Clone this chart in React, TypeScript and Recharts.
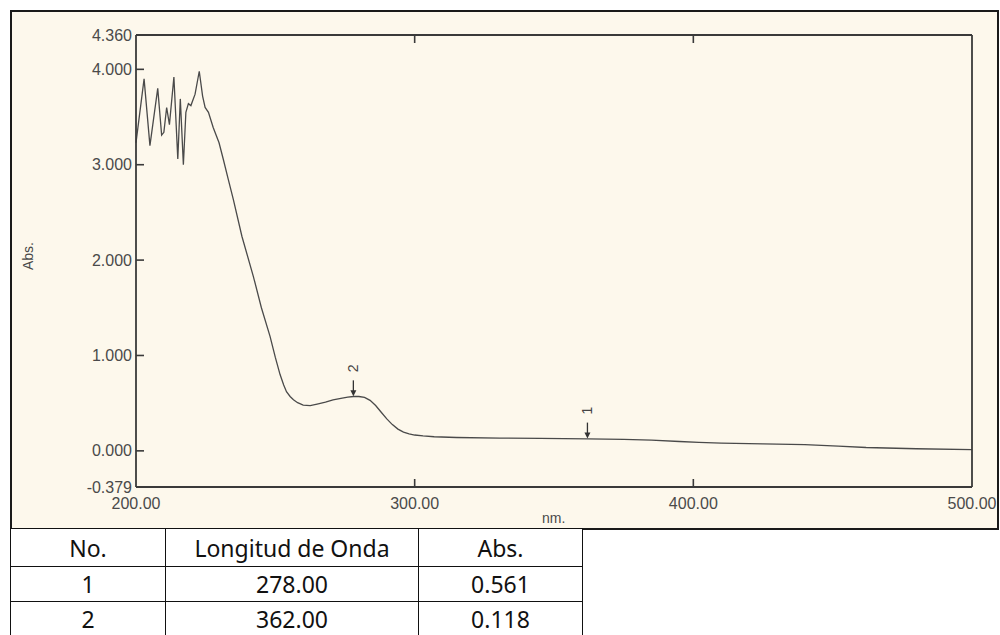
import React from "react";
import { LineChart, Line, XAxis, YAxis, ReferenceDot } from "recharts";

// Spectrum (wavelength nm -> absorbance)
const wavelengths = [
  200, 202.9, 205, 207.8, 209.2, 210, 211, 212, 213.6, 215, 215.9, 217, 217.9, 218.8,
  219.7, 221.2, 222.7, 223.9, 224.8, 226, 227.7, 229.8, 231.3, 233, 234.9, 238, 242.1, 245,
  248.1, 250, 251.7, 253, 254, 255.3, 256.5, 258, 260, 262.5, 265, 268, 270.7, 274, 276, 278,
  280, 282, 284, 286, 288, 290, 292, 294, 296, 298, 300, 303, 307, 315, 330.6, 345, 362,
  375, 385, 395, 402, 410, 425, 440, 452, 462, 480, 500,
];
const absorbance = [
  3.23, 3.9, 3.2, 3.8, 3.31, 3.34, 3.6, 3.42, 3.92, 3.06, 3.69, 3.0, 3.55, 3.64,
  3.62, 3.74, 3.98, 3.72, 3.6, 3.55, 3.39, 3.23, 3.06, 2.86, 2.64, 2.25, 1.83, 1.5,
  1.2, 0.98, 0.8, 0.69, 0.62, 0.57, 0.535, 0.505, 0.48, 0.475, 0.49, 0.51, 0.535, 0.553, 0.563, 0.57,
  0.57, 0.56, 0.53, 0.475, 0.405, 0.335, 0.275, 0.228, 0.197, 0.178, 0.166, 0.156, 0.148, 0.14, 0.134, 0.13, 0.126,
  0.121, 0.112, 0.098, 0.088, 0.081, 0.074, 0.066, 0.05, 0.035, 0.022, 0.012,
];

const xTicks = [200, 300, 400, 500];
const xInnerTicks = [300, 400];
const yTicks = [-0.379, 0, 1, 2, 3, 4, 4.36];
const yInnerTicks = [0, 1, 2, 3, 4];

// Peak markers as drawn on the plot
const peakWavelengths = [278, 362];
const peakAbs = [0.561, 0.118];
const peakLabels = ["2", "1"];

// Peak table
const tableHeaders = ["No.", "Longitud de Onda", "Abs."];
const tableNo = ["1", "2"];
const tableWave = ["278.00", "362.00"];
const tableAbs = ["0.561", "0.118"];

const data = wavelengths.map((w, i) => ({ nm: w, abs: absorbance[i] }));

const AXIS = "#3a3a3a";
const LABEL = "#4a4a4a";
const FONT = "'Liberation Sans', Arial, sans-serif";
const BG = "#fdf8ec";

function LeftTick(props: any) {
  const { x, y, payload } = props;
  const v = payload.value as number;
  const showLine = yInnerTicks.includes(v);
  return (
    <g>
      {showLine && <line x1={x + 4} x2={x + 12} y1={y} y2={y} stroke={AXIS} strokeWidth={1.6} />}
      <text x={x} y={y} dy={5.5} textAnchor="end" fontSize={16} fill={LABEL} fontFamily={FONT}>
        {v.toFixed(3)}
      </text>
    </g>
  );
}

function BottomTick(props: any) {
  const { x, y, payload } = props;
  const v = payload.value as number;
  const showLine = xInnerTicks.includes(v);
  return (
    <g>
      {showLine && <line x1={x} x2={x} y1={y - 10} y2={y - 18} stroke={AXIS} strokeWidth={1.6} />}
      <text x={x} y={y} dy={12} textAnchor="middle" fontSize={16} fill={LABEL} fontFamily={FONT}>
        {v.toFixed(2)}
      </text>
    </g>
  );
}

function TopTick(props: any) {
  const { x, y, payload } = props;
  const v = payload.value as number;
  if (!xInnerTicks.includes(v)) return <g />;
  return <line x1={x} x2={x} y1={y} y2={y + 8} stroke={AXIS} strokeWidth={1.6} />;
}

function RightTick(props: any) {
  const { x, y, payload } = props;
  const v = payload.value as number;
  if (!yInnerTicks.includes(v)) return <g />;
  return <line x1={x - 8} x2={x} y1={y} y2={y} stroke={AXIS} strokeWidth={1.6} />;
}

function PeakMarker(props: any) {
  const { cx, cy, text } = props;
  return (
    <g>
      <line x1={cx} x2={cx} y1={cy - 17} y2={cy - 4} stroke="#333" strokeWidth={1.3} />
      <path d={`M${cx - 3},${cy - 7} L${cx + 3},${cy - 7} L${cx},${cy - 1} Z`} fill="#333" />
      <text
        transform={`translate(${cx + 5},${cy - 29}) rotate(-90)`}
        textAnchor="middle"
        fontSize={14}
        fill="#444"
        fontFamily={FONT}
      >
        {text}
      </text>
    </g>
  );
}

const cellStyle: React.CSSProperties = {
  border: "1.5px solid #111",
  textAlign: "center",
  padding: 0,
  fontSize: 23,
  color: "#111",
};

export default function App() {
  return (
    <div style={{ position: "absolute", left: 0, top: 0, width: 1000, height: 635, background: "#fff", overflow: "hidden" }}>
      <div
        style={{
          position: "absolute",
          left: 10,
          top: 10,
          width: 989,
          height: 520,
          boxSizing: "border-box",
          border: "2px solid #1a1a1a",
          background: BG,
        }}
      />
      <div style={{ position: "absolute", left: 0, top: 0 }}>
        <LineChart width={1000} height={530} data={data} margin={{ top: 25, right: 18, bottom: 13, left: 76 }}>
          <XAxis
            xAxisId="b"
            dataKey="nm"
            type="number"
            domain={[200, 500]}
            ticks={xTicks}
            interval={0}
            height={30}
            tickSize={0}
            tickMargin={10}
            tickLine={false}
            axisLine={{ stroke: AXIS, strokeWidth: 1.8 }}
            tick={<BottomTick />}
          />
          <XAxis
            xAxisId="t"
            orientation="top"
            dataKey="nm"
            type="number"
            domain={[200, 500]}
            ticks={xTicks}
            interval={0}
            height={10}
            tickSize={0}
            tickMargin={0}
            tickLine={false}
            axisLine={{ stroke: AXIS, strokeWidth: 1.8 }}
            tick={<TopTick />}
          />
          <YAxis
            yAxisId="l"
            type="number"
            domain={[-0.379, 4.36]}
            ticks={yTicks}
            interval={0}
            width={60}
            tickSize={0}
            tickMargin={4}
            tickLine={false}
            axisLine={{ stroke: AXIS, strokeWidth: 1.8 }}
            tick={<LeftTick />}
          />
          <YAxis
            yAxisId="r"
            orientation="right"
            type="number"
            domain={[-0.379, 4.36]}
            ticks={yTicks}
            interval={0}
            width={10}
            tickSize={0}
            tickMargin={0}
            tickLine={false}
            axisLine={{ stroke: AXIS, strokeWidth: 1.8 }}
            tick={<RightTick />}
          />
          <Line
            xAxisId="b"
            yAxisId="l"
            type="linear"
            dataKey="abs"
            stroke="#4a4a4a"
            strokeWidth={1.3}
            dot={false}
            isAnimationActive={false}
          />
          {peakWavelengths.map((w, i) => (
            <ReferenceDot
              key={i}
              xAxisId="b"
              yAxisId="l"
              x={w}
              y={peakAbs[i]}
              r={3}
              shape={(p: any) => <PeakMarker {...p} text={peakLabels[i]} />}
            />
          ))}
        </LineChart>
      </div>
      <div
        style={{
          position: "absolute",
          left: 20,
          top: 256,
          transform: "translate(-50%, -50%) rotate(-90deg)",
          transformOrigin: "center",
          fontFamily: FONT,
          fontSize: 14,
          color: LABEL,
          marginLeft: 8,
        }}
      >
        Abs.
      </div>
      <div style={{ position: "absolute", left: 542, top: 510, fontFamily: FONT, fontSize: 14, color: LABEL }}>nm.</div>
      <table
        style={{
          position: "absolute",
          left: 10,
          top: 528,
          borderCollapse: "collapse",
          fontFamily: "'Noto Sans', 'Open Sans', sans-serif",
          background: "#fff",
        }}
      >
        <colgroup>
          <col style={{ width: 155 }} />
          <col style={{ width: 253 }} />
          <col style={{ width: 164 }} />
        </colgroup>
        <tbody>
          <tr style={{ height: 38 }}>
            {tableHeaders.map((h, i) => (
              <td key={i} style={cellStyle}>{h}</td>
            ))}
          </tr>
          {tableNo.map((n, i) => (
            <tr key={i} style={{ height: 35 }}>
              <td style={cellStyle}>{n}</td>
              <td style={cellStyle}>{tableWave[i]}</td>
              <td style={cellStyle}>{tableAbs[i]}</td>
            </tr>
          ))}
        </tbody>
      </table>
    </div>
  );
}
